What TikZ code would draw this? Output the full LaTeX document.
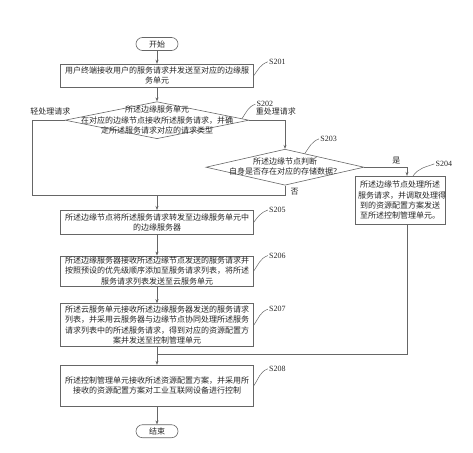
\documentclass[tikz,border=0pt]{standalone}
\usepackage{fontspec}
\setmainfont{Liberation Serif}
\newfontfamily\cjk{Noto Sans CJK SC}
\usetikzlibrary{arrows.meta}
\usetikzlibrary{calc,positioning,shapes.geometric}

\begin{document}
\begin{tikzpicture}[x=1pt, y=1pt, >={Stealth[length=4pt,width=3pt]},
  color=black!60, line width=0.6pt,
  every node/.style={font=\cjk\fontsize{8pt}{10.3pt}\selectfont, text=black!85},
  term/.style={draw, rectangle, rounded corners=6.5pt, minimum width=42pt, minimum height=13pt, inner sep=0pt},
  proc/.style={draw, rectangle, minimum width=193pt, align=center, inner sep=1pt},
  dec/.style={draw, diamond, inner sep=0pt},
  tag/.style={font=\rmfamily\fontsize{8pt}{9pt}\selectfont, inner sep=1pt},
  lead/.style={line width=0.5pt}]
  \useasboundingbox (0,0) rectangle (473,-452);

  \node[term] (start) at (157,-44) {开始};
  \node[proc, below=13pt of start, minimum height=23pt] (s201)
    {用户终端接收用户的服务请求并发送至对应的边缘服\\务单元};

  \node[dec, below=14pt of s201, minimum width=184pt, minimum height=37pt] (s202) {};
  \node[align=center] (t202) at (s202)
    {所述边缘服务单元\\在对应的边缘节点接收所述服务请求，并确\\定所述服务请求对应的请求类型};

  \node[dec, minimum width=158pt, minimum height=36pt] (s203) at ($(s202)+(128,-47)$) {};
  \node[align=center] (t203) at ([yshift=1pt]s203) {所述边缘节点判断\\自身是否存在对应的存储数据？};

  \node[proc, minimum width=90pt, text width=84pt, minimum height=48pt] (s204) at ($(s203)+(115,-33)$)
    {所述边缘节点处理所述\\服务请求，并调取处理得\\到的资源配置方案发送\\至所述控制管理单元。};

  \node[proc, below=71pt of s202, minimum height=24pt] (s205)
    {所述边缘节点将所述服务请求转发至边缘服务单元中\\的边缘服务器};
  \node[proc, below=21pt of s205, minimum height=30pt] (s206)
    {所述边缘服务器接收所述边缘节点发送的服务请求并\\按照预设的优先级顺序添加至服务请求列表，将所述\\服务请求列表发送至云服务单元};
  \node[proc, below=17pt of s206, minimum height=43pt] (s207)
    {所述云服务单元接收所述边缘服务器发送的服务请求\\列表，并采用云服务器与边缘节点协同处理所述服务\\请求列表中的所述服务请求，得到对应的资源配置方\\案并发送至控制管理单元};
  \node[proc, below=18pt of s207, minimum height=41pt] (s208)
    {所述控制管理单元接收所述资源配置方案，并采用所\\接收的资源配置方案对工业互联网设备进行控制};
  \node[term, below=18pt of s208] (end) {结束};

  % step labels
  \node[tag, right=14pt of s201.north east, yshift=2pt] (l201) {S201};
  \node[tag, above right=12pt and 6pt of s202.east] (l202) {S202};
  \node[tag, above right=6pt and 34pt of s203.north] (l203) {S203};
  \node[tag, above left=8pt and -8pt of s204.north east] (l204) {S204};
  \node[tag, right=14pt of s205.north east] (l205) {S205};
  \node[tag, right=14pt of s206.north east] (l206) {S206};
  \node[tag, below right=2pt and 14pt of s207.north east] (l207) {S207};
  \node[tag, below right=0pt and 14pt of s208.north east] (l208) {S208};

  \draw[lead] (s201.east) to[out=55,in=200] (l201.west);
  \draw[lead] ($(s202.east)!0.08!(s202.north)$) to[out=55,in=200] (l202.west);
  \draw[lead] ($(s203.north)!0.25!(s203.east)$) to[out=55,in=200] (l203.west);
  \draw[lead] ([xshift=13pt]s204.north) to[out=55,in=200] (l204.west);
  \draw[lead] (s205.east) to[out=55,in=200] (l205.west);
  \draw[lead] (s206.east) to[out=55,in=200] (l206.west);
  \draw[lead] (s207.east) to[out=55,in=200] (l207.west);
  \draw[lead] (s208.east) to[out=55,in=200] (l208.west);

  % branches
  \coordinate[left=32pt of s202.west] (lb);
  \coordinate[above=15pt of s205] (j1);
  \coordinate[above=11pt of s208] (j2);

  \node[above right=1pt and -6pt of lb] (q202) {轻处理请求};
  \node[above right=1pt and 3pt of s202.east] (h202) {重处理请求};
  \node (y203) at ($(s203.east)+(32,7)$) {是};
  \node[below right=-1pt and 2pt of s203.south] (n203) {否};

  \draw[->] (start) -- (s201);
  \draw[->] (s201) -- (s202);
  \draw (s202.west) -- (lb) |- (j1);
  \draw[->] (s202.east) -| (s203.north);
  \draw (s203.south) |- (j1);
  \draw[->] (s203.east) -| ([xshift=7pt]s204.north);
  \draw[->] (j1) -- (s205);
  \draw[->] (s205) -- (s206);
  \draw[->] (s206) -- (s207);
  \draw[->] (s207) -- (s208);
  \draw ([xshift=7pt]s204.south) |- (j2);
  \draw[->] (s208) -- (end);

\end{tikzpicture}
\end{document}
